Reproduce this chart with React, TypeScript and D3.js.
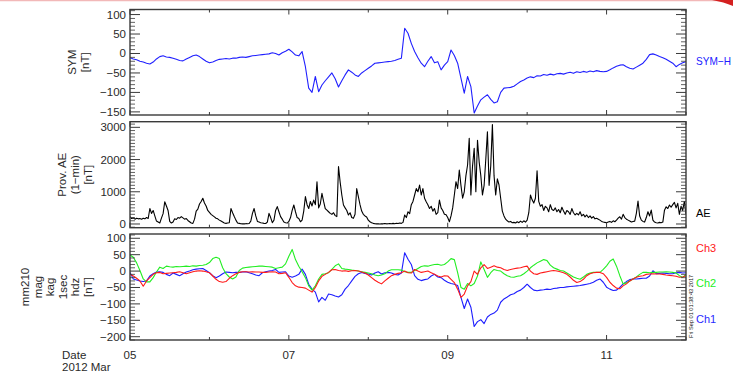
import React from "react";
import * as d3 from "d3";

// Time axis: 2012 Mar 05 00:00 UT to Mar 12 00:00 UT
const START = Date.UTC(2012, 2, 5);
const END = Date.UTC(2012, 2, 12);

// SYM-H index, hourly samples starting Mar 05 00 UT [nT]
const symH = [
  -11, -14, -16, -20, -22, -25, -27, -22, -14, -8, -6, -9,
  -10, -12, -15, -18, -19, -14, -10, -6, -4, -8, -14, -20,
  -24, -22, -18, -15, -14, -13, -14, -12, -12, -10, -9, -10,
  -8, -6, -5, -4, -3, -2, -1, 2, 0, -4, 2, 6,
  11, 4, -4, -6, 5, -34, -89, -100, -59, -98, -81, -70,
  -60, -50, -65, -86, -70, -55, -42, -48, -55, -59, -50, -44,
  -38, -32, -25, -24, -23, -22, -21, -20, -18, -15, -12, 65,
  52, 26, 5, -11, -25, -34, -20, -8, -24, -21, -42, -30,
  -21, 9, -5, -25, -63, -102, -59, -85, -153, -135, -119, -112,
  -106, -118, -127, -124, -100, -89, -88, -87, -84, -78, -72, -68,
  -63, -60, -62, -57, -58, -54, -56, -53, -55, -52, -51, -53,
  -50, -48, -51, -47, -49, -46, -48, -45, -47, -44, -46, -47,
  -46, -42, -37, -33, -30, -29, -34, -38, -40, -35, -30, -25,
  -15, -3, -1, -4, -8, -11, -15, -20, -25, -34, -28, -24,
  -21,
];

// Provisional AE index, 30-minute samples [nT]
const aeIndex = [
  230, 170, 190, 150, 180, 160,
  170, 150, 180, 160, 200, 170,
  480, 330, 420, 250, 90, 60,
  30, 180, 320, 690, 560, 420,
  80, 30, 60, 160, 140, 200,
  180, 230, 190, 150, 170, 110,
  70, 30, 20, 150, 400, 460,
  620, 700, 800, 650, 560, 420,
  360, 300, 260, 220, 180, 160,
  120, 90, 60, 30, 20, 30,
  40, 480, 350, 230, 120, 30,
  20, 10, 5, 5, 10, 8,
  15, 90, 330, 480, 250, 80,
  60, 40, 30, 20, 15, 60,
  330, 200, 40, 120, 420, 540,
  380, 230, 150, 60, 40, 30,
  80, 200, 420, 590, 380, 200,
  170, 70, 120, 400, 850, 600,
  480, 700, 560, 740, 600, 1310,
  500, 620, 950, 700, 480, 430,
  380, 330, 300, 350, 260, 230,
  1780, 1300, 900, 590, 500, 420,
  280, 350, 200, 175, 300, 1100,
  850, 600, 400, 300, 250, 220,
  120, 70, 40, 20, 10, 5,
  5, 0, 10, 5, 15, 5,
  10, 15, 5, 20, 10, 25,
  15, 30, 20, 50, 280, 200,
  380, 320, 600, 700, 900, 1100,
  1000, 1210, 900, 1100, 800, 690,
  600, 480, 550, 400, 480, 300,
  350, 740, 500, 420, 300, 290,
  200, 70, 250, 500, 900, 1313,
  1100, 1675, 1200, 800, 1000, 1500,
  1830, 2660, 900, 1800, 2350, 1000,
  2600, 1930, 1500, 900, 1200, 2000,
  2864, 1200, 1800, 3090, 1500, 900,
  1400, 1210, 800, 400, 250, 150,
  100, 60, 80, 40, 50, 30,
  70, 40, 90, 50, 100, 60,
  120, 350, 900, 750, 650, 800,
  1650, 700, 550, 600, 420, 550,
  500, 380, 600, 450, 420, 500,
  380, 450, 350, 520, 400, 300,
  420, 380, 300, 480, 350, 280,
  330, 280, 380, 250, 300, 220,
  280, 200, 250, 180, 230, 160,
  180, 150, 120, 80, 60, 50,
  40, 60, 80, 50, 100, 70,
  120, 180, 225, 150, 300, 200,
  150, 120, 90, 60, 80, 90,
  330, 713, 250, 120, 80, 60,
  200, 380, 250, 430, 120, 60,
  40, 30, 50, 40, 60, 430,
  535, 480, 590, 520, 600, 672,
  500, 640, 300, 550, 420, 700,
  300,
];

// Magnetometer mm210 (kag), hourly samples [nT]
const ch1 = [
  -4, -24, -27, -30, -32, -30, -15, -8, -3, -2, -4, -10,
  -14, -6, -10, -14, -8, -3, 0, 4, 6, 7, 8, 2,
  -5, -14, -20, -15, -8, -3, -4, -5, -4, -4, -3, -2,
  -5, -8, -12, -14, -5, -2, 0, 2, 5, -4, -3, -2,
  -15, -19, -15, -10, 6, -10, -40, -55, -64, -94, -80, -89,
  -70, -72, -76, -79, -72, -55, -44, -30, -16, -8, -4, -7,
  -9, -12, -6, -2, -9, -5, -4, -6, -10, -12, -6, 56,
  36, 20, -14, -25, -29, -26, -24, -15, -10, -18, -20, -28,
  -34, -38, -40, -44, -80, -114, -85, -110, -169, -154, -148, -160,
  -140, -132, -128, -119, -95, -85, -79, -72, -69, -62, -58, -50,
  -40, -50, -58, -60, -58, -57, -55, -56, -53, -52, -50, -50,
  -48, -47, -46, -45, -44, -42, -40, -38, -34, -28, -24, -34,
  -49, -55, -59, -58, -50, -39, -32, -26, -24, -24, -23, -22,
  -22, -15, 1, -8, -7, -6, -7, -8, -8, -5, -4, -6,
  -5,
];

const ch2 = [
  49, 42, 25, 2, -24, -33, -33, -20, -3, 12, 8, 15,
  13, 12, 14, 13, 14, 15, 14, 16, 15, 17, 18, 20,
  26, 38, 42, 38, 10, -8, -18, -24, -18, 2, 9, 11,
  12, 13, 14, 15, 15, 14, 13, 12, 8, 10, 12, 22,
  45, 66, 35, 15, -2, -20, -45, -58, -45, -24, -10, -8,
  -5, 5, 16, 22, 8, 6, 5, 3, 2, 0, -2, -4,
  -6, -8, -12, -14, -12, -8, 0, 4, 4, 4, 3, -2,
  -4, -4, 2, 8, 14, 16, 15, 18, 20, 21, 18, 20,
  28, 38, 35, -5, -50, -55, -38, -45, -38, -15, 28, 5,
  -19, -5, 5, 2, 0, -8, -14, -18, -19, -16, -14, -8,
  0, 10, 18, 25, 30, 35, 32, 18, 10, 6, 2, 0,
  -6, -12, -18, -22, -25, -18, -10, -6, -4, -4, -4, 5,
  16, 30, 37, 15, -14, -39, -36, -30, -24, -18, -10, -4,
  -4, -5, -4, -4, -3, -3, -2, -3, -4, -6, -14, -19,
  -10,
];

const ch3 = [
  -9, -15, -22, -30, -46, -30, -20, -10, -5, -4, -8, -7,
  -6, -5, -4, -2, -5, -8, -5, -2, 0, 1, 0, -2,
  -5, -15, -25, -32, -34, -32, -22, -14, -8, -4, -2, -2,
  -3, -2, -3, -3, -4, -4, -3, -2, -3, -8, -7, -5,
  -19, -35, -45, -49, -50, -52, -58, -64, -50, -30, -16, -10,
  -4, 4, 5, 2, 0, 1, -1, 1, 2, 0, -3, -6,
  -12, -20, -28, -34, -39, -30, -22, -14, -10, -7, -5, 0,
  -5, -6, 5, 0, -4, -2, 0, -5, -10, -15, -18, -14,
  -15, -25, -35, -55, -80, -70, -45, -32, 0, -10, 10, 20,
  8, 12, 16, 12, 10, 5, 2, 5, 7, 9, 10, 13,
  15, 0, -8, -10, -6, -4, -2, 0, 2, 0, -2, -5,
  -10, -18, -28, -35, -32, -25, -14, -8, -5, -4, -4, -8,
  -19, -34, -44, -52, -54, -45, -39, -30, -24, -19, -16, -14,
  -10, -9, -8, -9, -9, -10, -12, -13, -14, -16, -19, -18,
  -14,
];

// Axis ticks
const symMajor = [-150, -100, -50, 0, 50, 100];
const aeMajor = [0, 1000, 2000, 3000];
const magMajor = [-200, -150, -100, -50, 0, 50, 100];

const W = 733;
const H = 373;
const X0 = 130;
const X1 = 686;
const FONT = "'Liberation Sans', Arial, Helvetica, sans-serif";
const FRAME = "#3a3a3a";
const INK = "#2a2a2a";

const x = d3
  .scaleUtc()
  .domain([new Date(START), new Date(END)])
  .range([X0, X1]);

type Series = { values: number[]; stepMin: number; color: string };
type Panel = {
  id: string;
  top: number;
  bottom: number;
  domain: [number, number];
  major: number[];
  minorStep: number;
  title: string[];
  titleX: number[];
  series: Series[];
  labels: { text: string; color: string; y: number; fit?: number }[];
};

const panels: Panel[] = [
  {
    id: "sym",
    top: 9.5,
    bottom: 115,
    domain: [-158, 113],
    major: symMajor,
    minorStep: 10,
    title: ["SYM", "[nT]"],
    titleX: [72, 85],
    series: [{ values: symH, stepMin: 60, color: "#2020ff" }],
    labels: [{ text: "SYM\u2212H", color: "#2020ff", y: 61, fit: 35 }],
  },
  {
    id: "ae",
    top: 121.7,
    bottom: 227.7,
    domain: [-115, 3175],
    major: aeMajor,
    minorStep: 100,
    title: ["Prov. AE", "(1\u2212min)", "[nT]"],
    titleX: [62, 75, 88],
    series: [{ values: aeIndex, stepMin: 30, color: "#000000" }],
    labels: [{ text: "AE", color: "#000000", y: 213 }],
  },
  {
    id: "mag",
    top: 234,
    bottom: 340,
    domain: [-210, 113],
    major: magMajor,
    minorStep: 10,
    title: ["mm210", "mag", "kag", "1sec", "hdz", "[nT]"],
    titleX: [25, 37.5, 50, 62.5, 75, 87.5],
    series: [
      { values: ch1, stepMin: 60, color: "#1e1eff" },
      { values: ch2, stepMin: 60, color: "#22ee22" },
      { values: ch3, stepMin: 60, color: "#ff1a1a" },
    ],
    labels: [
      { text: "Ch3", color: "#ff2020", y: 248 },
      { text: "Ch2", color: "#22ee22", y: 283 },
      { text: "Ch1", color: "#2a2aff", y: 319 },
    ],
  },
];

const fmtTick = (v: number) => (v < 0 ? "\u2212" + Math.abs(v) : String(v));

function PanelView({ p, showDates }: { p: Panel; showDates: boolean }) {
  const y = d3.scaleLinear().domain(p.domain).range([p.bottom, p.top]);
  const minors = d3
    .range(Math.ceil(p.domain[0] / p.minorStep) * p.minorStep, p.domain[1], p.minorStep)
    .filter((v) => !p.major.includes(v));
  const days = d3.utcDay.range(new Date(START), new Date(END + 1));
  const clipId = `clip-${p.id}`;
  const midY = (p.top + p.bottom) / 2;

  return (
    <g>
      <defs>
        <clipPath id={clipId}>
          <rect x={X0} y={p.top} width={X1 - X0} height={p.bottom - p.top} />
        </clipPath>
      </defs>

      {/* data lines */}
      <g clipPath={`url(#${clipId})`}>
        {p.series.map((s, k) => {
          const line = d3
            .line<number>()
            .x((_, i) => x(new Date(START + i * s.stepMin * 60000)))
            .y((v) => y(v));
          return (
            <path
              key={k}
              d={line(s.values) ?? ""}
              fill="none"
              stroke={s.color}
              strokeWidth={1.1}
              strokeLinejoin="round"
            />
          );
        })}
      </g>

      {/* frame */}
      <rect
        x={X0}
        y={p.top}
        width={X1 - X0}
        height={p.bottom - p.top}
        fill="none"
        stroke={FRAME}
        strokeWidth={1.4}
      />

      {/* y ticks on both sides */}
      {p.major.map((v) => (
        <g key={`M${v}`}>
          <line x1={X0} x2={X0 + 10} y1={y(v)} y2={y(v)} stroke={FRAME} strokeWidth={1} />
          <line x1={X1} x2={X1 - 10} y1={y(v)} y2={y(v)} stroke={FRAME} strokeWidth={1} />
          <text
            x={126}
            y={y(v)}
            textAnchor="end"
            dominantBaseline="central"
            fontSize={11.5}
            fill={INK}
            fontFamily={FONT}
          >
            {fmtTick(v)}
          </text>
        </g>
      ))}
      {minors.map((v) => (
        <g key={`m${v}`}>
          <line x1={X0} x2={X0 + 5} y1={y(v)} y2={y(v)} stroke={FRAME} strokeWidth={0.8} />
          <line x1={X1} x2={X1 - 5} y1={y(v)} y2={y(v)} stroke={FRAME} strokeWidth={0.8} />
        </g>
      ))}

      {/* x ticks: every day, longer every second day */}
      {days.map((d, i) => {
        const len = i % 2 === 0 ? 5 : 3;
        const xx = x(d);
        return (
          <g key={`d${i}`}>
            <line x1={xx} x2={xx} y1={p.top} y2={p.top + len} stroke={FRAME} strokeWidth={1} />
            <line x1={xx} x2={xx} y1={p.bottom} y2={p.bottom - len} stroke={FRAME} strokeWidth={1} />
            {showDates && i % 2 === 0 && (
              <text
                x={xx}
                y={355}
                textAnchor="middle"
                dominantBaseline="central"
                fontSize={11.5}
                fill={INK}
                fontFamily={FONT}
              >
                {d3.utcFormat("%d")(d)}
              </text>
            )}
          </g>
        );
      })}

      {/* rotated axis title */}
      {p.title.map((t, i) => (
        <text
          key={`t${i}`}
          transform={`translate(${p.titleX[i]},${midY}) rotate(-90)`}
          textAnchor="middle"
          dominantBaseline="central"
          fontSize={11.5}
          fill={INK}
          fontFamily={FONT}
        >
          {t}
        </text>
      ))}

      {/* series names on the right */}
      {p.labels.map((l) => (
        <text
          key={l.text}
          x={696}
          y={l.y}
          dominantBaseline="central"
          fontSize={11}
          fill={l.color}
          fontFamily={FONT}
          textLength={l.fit}
          lengthAdjust={l.fit ? "spacingAndGlyphs" : undefined}
        >
          {l.text}
        </text>
      ))}
    </g>
  );
}

export default function App() {
  return (
    <svg
      width={W}
      height={H}
      viewBox={`0 0 ${W} ${H}`}
      style={{ position: "absolute", left: 0, top: 0, background: "#fff" }}
    >
      <rect x={0} y={0} width={W} height={H} fill="#fff" />
      {/* window edge */}
      <line x1={0} x2={W} y1={0.5} y2={0.5} stroke="#f2b8b8" strokeWidth={1.5} />
      <path d="M712,0 L733,0 L733,6 Q724,2 712,0 Z" fill="#d42020" />

      {panels.map((p, i) => (
        <PanelView key={p.id} p={p} showDates={i === panels.length - 1} />
      ))}

      <text x={62} y={355} dominantBaseline="central" fontSize={11.5} fill={INK} fontFamily={FONT}>
        Date
      </text>
      <text x={62} y={367} dominantBaseline="central" fontSize={11.5} fill={INK} fontFamily={FONT}>
        2012 Mar
      </text>

      {/* plot creation stamp */}
      <text
        transform="translate(691,338) rotate(-90)"
        fontSize={5.6}
        fill="#111"
        fontFamily={FONT}
        dominantBaseline="central"
      >
        Fri Sep 01 01:38:43 2017
      </text>
    </svg>
  );
}
